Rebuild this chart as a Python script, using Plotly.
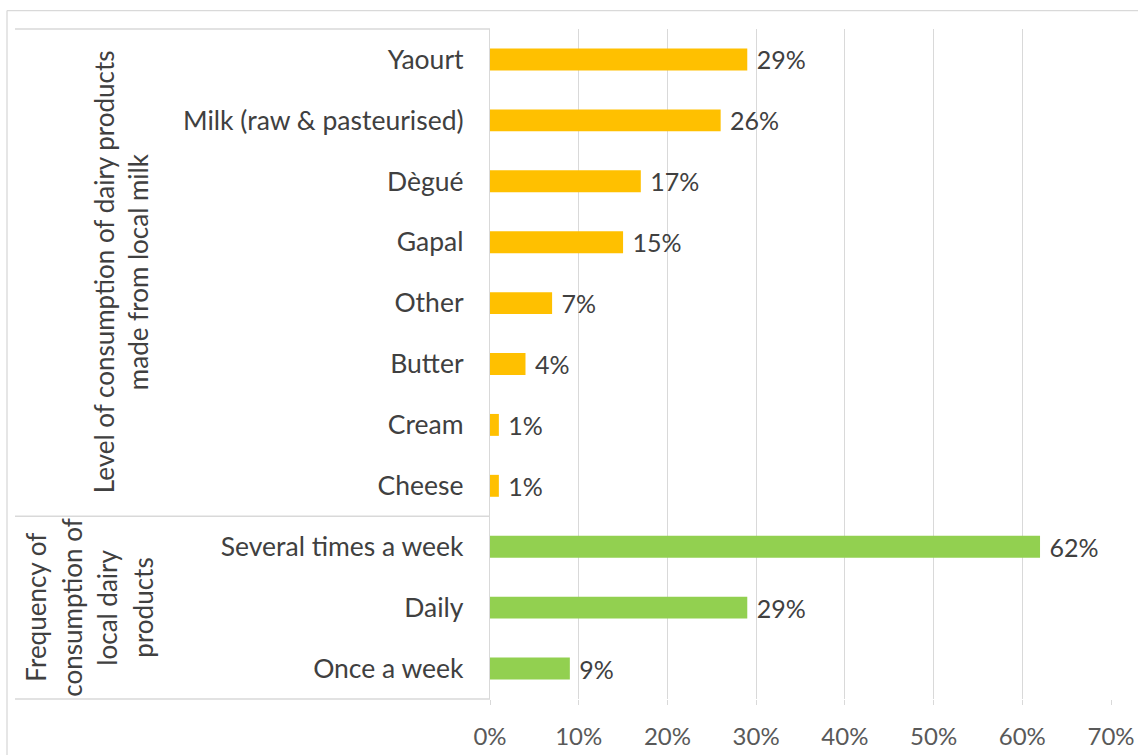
import plotly.graph_objects as go

# Categories (top to bottom) and shares
product_labels = ["Yaourt", "Milk (raw & pasteurised)", "Dègué", "Gapal",
                  "Other", "Butter", "Cream", "Cheese"]
product_shares = [0.29, 0.26, 0.17, 0.15, 0.07, 0.04, 0.01, 0.01]

frequency_labels = ["Several times a week", "Daily", "Once a week"]
frequency_shares = [0.62, 0.29, 0.09]

group_titles = [
    ["Level of consumption of dairy products", "made from local milk"],
    ["Frequency of", "consumption of", "local dairy", "products"],
]

x_ticks = [0, 0.1, 0.2, 0.3, 0.4, 0.5, 0.6, 0.7]

ORANGE = "#FFC000"
GREEN = "#92D050"
GRID = "#D9D9D9"
TEXT = "#404040"
FONT = "Lato"

W, H = 1138, 755
PL, PR, PT, PB = 490, 1111, 28.5, 699.5


def fx(px):
    return (px - PL) / (PR - PL)


def fy(py):
    return (PB - py) / (PB - PT)


all_labels = product_labels + frequency_labels

fig = go.Figure()
for labels, shares, color in [(product_labels, product_shares, ORANGE),
                              (frequency_labels, frequency_shares, GREEN)]:
    fig.add_trace(go.Bar(
        y=labels, x=shares, orientation="h",
        marker=dict(color=color, line=dict(width=0)), width=0.36,
        texttemplate=" %{x:.0%}", textposition="outside", constraintext="none",
        textfont=dict(family=FONT, size=25, color=TEXT), cliponaxis=False,
    ))

line = dict(color=GRID, width=1.3)
shapes = [
    # outer chart frame (top and left edges)
    dict(type="line", xref="paper", yref="paper",
         x0=fx(7), x1=fx(W + 10), y0=fy(10), y1=fy(10), line=line),
    dict(type="line", xref="paper", yref="paper",
         x0=fx(7), x1=fx(7), y0=fy(10), y1=fy(H + 10), line=line),
    # category-table rules
    dict(type="line", xref="paper", yref="paper",
         x0=fx(15), x1=fx(PL), y0=fy(28.5), y1=fy(28.5), line=line),
    dict(type="line", xref="paper", yref="paper",
         x0=fx(15), x1=fx(PL), y0=fy(516.5), y1=fy(516.5), line=line),
    dict(type="line", xref="paper", yref="paper",
         x0=fx(15), x1=fx(PL), y0=fy(699.5), y1=fy(699.5), line=line),
]

annotations = []
# group titles, one rotated annotation per text line
title_layout = [([104, 138], 272), ([36, 72, 107, 143], 608)]
for lines, (xs, yc) in zip(group_titles, title_layout):
    for txt, xp in zip(lines, xs):
        annotations.append(dict(
            text=txt, xref="paper", yref="paper", x=fx(xp), y=fy(yc),
            xanchor="center", yanchor="middle", showarrow=False, textangle=-90,
            font=dict(family=FONT, size=26, color=TEXT)))

fig.update_layout(
    width=W, height=H,
    margin=dict(l=PL, r=W - PR, t=PT, b=H - PB, autoexpand=False),
    paper_bgcolor="white", plot_bgcolor="white",
    showlegend=False, barmode="overlay",
    shapes=shapes, annotations=annotations,
    font=dict(family=FONT, color=TEXT),
)
fig.update_xaxes(
    range=[0, 0.7], tickvals=x_ticks, tickformat=".0%", automargin=False,
    showgrid=True, gridcolor=GRID, gridwidth=1.3, zeroline=False,
    ticks="outside", ticklen=5, tickcolor=GRID, tickwidth=1.3,
    ticklabelstandoff=11,
    tickfont=dict(family=FONT, size=24, color="#595959"),
)
fig.update_yaxes(
    categoryorder="array", categoryarray=all_labels, autorange="reversed",
    automargin=False,
    showline=True, linecolor=GRID, linewidth=1.3, ticks="",
    ticklabelstandoff=20,
    tickfont=dict(family=FONT, size=26.5, color=TEXT),
)

fig.write_html("out.html")
